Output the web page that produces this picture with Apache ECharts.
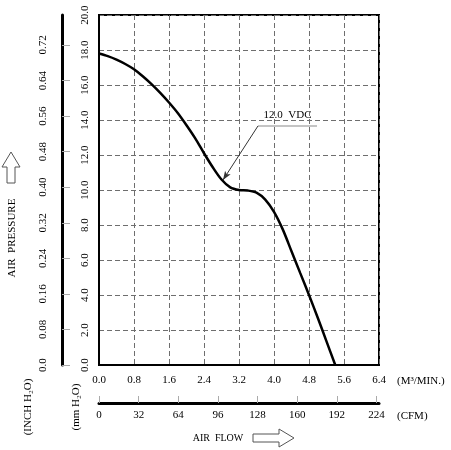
<!DOCTYPE html>
<html>
<head>
<meta charset="UTF-8">
<title>Fan P-Q curve</title>
<script src="https://cdn.jsdelivr.net/npm/echarts@6/dist/echarts.min.js"></script>
<style>
  html, body { margin: 0; padding: 0; background: #fff; }
  #main { width: 451px; height: 450px; }
</style>
</head>
<body>
<div id="main"></div>
<script>
// air flow (m3/min) vs static pressure (mm H2O)
var flowM3 = [0, 0.2, 0.4, 0.6, 0.8, 1.0, 1.2, 1.4, 1.6, 1.8, 2.0, 2.2, 2.4, 2.6,
              2.8, 3.0, 3.2, 3.4, 3.6, 3.8, 4.0, 4.2, 4.4, 4.6, 4.8, 5.0, 5.2, 5.4];
var pressMm = [17.8, 17.65, 17.45, 17.2, 16.9, 16.5, 16.05, 15.55, 15.0, 14.4, 13.7, 12.95, 12.1, 11.3,
               10.6, 10.15, 10.0, 9.97, 9.85, 9.45, 8.75, 7.75, 6.5, 5.25, 4.0, 2.7, 1.35, 0];

// callout for the rated voltage
var calloutText = '12.0  VDC';
var calloutLine = [[3.634, 13.66], [4.983, 13.66]];
var calloutTip = [2.834, 10.57];

var CFM_PER_M3 = 35.3147;
var MM_PER_INCH = 25.4;
var fontName = 'Liberation Serif';

var curve = flowM3.map(function (x, i) { return [x, pressMm[i]]; });

var chart = echarts.init(document.getElementById('main'));

var dash = { color: '#6e6e6e', width: 1, type: [5, 3] };
var lbl = { fontFamily: fontName, fontSize: 11, color: '#000' };

chart.setOption({
  animation: false,
  grid: { left: 99, top: 15, width: 280, height: 350, show: true, borderColor: '#000', borderWidth: 2 },
  xAxis: [{
    type: 'value', min: 0, max: 6.4, interval: 0.8, position: 'bottom',
    axisLine: { show: true, lineStyle: { color: '#000', width: 2 } },
    axisTick: { show: false },
    axisLabel: Object.assign({ margin: 10, formatter: function (v) { return v.toFixed(1); } }, lbl),
    splitLine: { show: true, lineStyle: dash }
  }, {
    type: 'value', min: 0, max: 6.4 * CFM_PER_M3, interval: 32, position: 'bottom', offset: 38,
    axisLine: { show: true, onZero: false, lineStyle: { color: '#000', width: 3 } },
    axisTick: { show: true, inside: true, length: 7, lineStyle: { color: '#aaa', width: 1 } },
    axisLabel: Object.assign({ margin: 7, showMaxLabel: false }, lbl),
    splitLine: { show: false }
  }],
  yAxis: [{
    type: 'value', min: 0, max: 20, interval: 2, position: 'left',
    axisLine: { show: true, lineStyle: { color: '#000', width: 2 } },
    axisTick: { show: false },
    axisLabel: Object.assign({ rotate: 90, margin: 8, formatter: function (v) { return v.toFixed(1); } }, lbl),
    splitLine: { show: true, lineStyle: dash }
  }, {
    type: 'value', min: 0, max: 20 / MM_PER_INCH, interval: 0.08, position: 'left', offset: 37,
    axisLine: { show: true, onZero: false, lineStyle: { color: '#000', width: 3 } },
    axisTick: { show: true, inside: true, length: 8, lineStyle: { color: '#aaa', width: 1 } },
    axisLabel: Object.assign({
      rotate: 90, margin: 13, showMaxLabel: false,
      formatter: function (v) { return v === 0 ? '0.0' : v.toFixed(2); }
    }, lbl),
    splitLine: { show: false }
  }],
  series: [{
    type: 'line', xAxisIndex: 0, yAxisIndex: 0,
    data: curve, smooth: 0.3, showSymbol: false,
    lineStyle: { color: '#000', width: 2.5 },
    markLine: {
      silent: true, animation: false, label: { show: false },
      data: [
        [{ coord: calloutLine[0], symbol: 'none', lineStyle: { color: '#c4c4c4', width: 2, type: 'solid' } },
         { coord: calloutLine[1], symbol: 'none' }],
        [{ coord: calloutLine[0], symbol: 'none', lineStyle: { color: '#333', width: 1, type: 'solid' } },
         { coord: calloutTip, symbol: 'arrow', symbolSize: [5, 9] }]
      ]
    }
  }],
  graphic: [
    { type: 'text', x: 12, y: 238, rotation: Math.PI / 2,
      style: { text: 'AIR  PRESSURE', font: '11px ' + fontName, fill: '#000', align: 'center', verticalAlign: 'middle' } },
    { type: 'polygon', shape: { points: [[11, 152], [20, 167], [15, 167], [15, 183], [7, 183], [7, 167], [2, 167]] },
      style: { fill: 'none', stroke: '#555', lineWidth: 1 } },
    { type: 'text', x: 28, y: 407, rotation: Math.PI / 2,
      style: { text: '(INCH H₂O)', font: '11px ' + fontName, fill: '#000', align: 'center', verticalAlign: 'middle' } },
    { type: 'text', x: 76, y: 407, rotation: Math.PI / 2,
      style: { text: '(mm H₂O)', font: '11px ' + fontName, fill: '#000', align: 'center', verticalAlign: 'middle' } },
    { type: 'text', x: 397, y: 381,
      style: { text: '(M³/MIN.)', font: '11px ' + fontName, fill: '#000', align: 'left', verticalAlign: 'middle' } },
    { type: 'text', x: 397, y: 416,
      style: { text: '(CFM)', font: '11px ' + fontName, fill: '#000', align: 'left', verticalAlign: 'middle' } },
    { type: 'text', x: 218, y: 438,
      style: { text: 'AIR  FLOW', font: '10px ' + fontName, fill: '#000', align: 'center', verticalAlign: 'middle' } },
    { type: 'polygon', shape: { points: [[253, 434], [279, 434], [279, 429], [294, 438], [279, 447], [279, 442], [253, 442]] },
      style: { fill: 'none', stroke: '#555', lineWidth: 1 } }
  ]
});

// place the callout text just above its underline
var p0 = chart.convertToPixel({ xAxisIndex: 0, yAxisIndex: 0 }, calloutLine[0]);
var p1 = chart.convertToPixel({ xAxisIndex: 0, yAxisIndex: 0 }, calloutLine[1]);
chart.setOption({
  graphic: [{
    id: 'callout', type: 'text', x: (p0[0] + p1[0]) / 2, y: p0[1] - 5,
    style: { text: calloutText, font: '11px ' + fontName, fill: '#000', align: 'center', verticalAlign: 'bottom' }
  }]
});
</script>
</body>
</html>
